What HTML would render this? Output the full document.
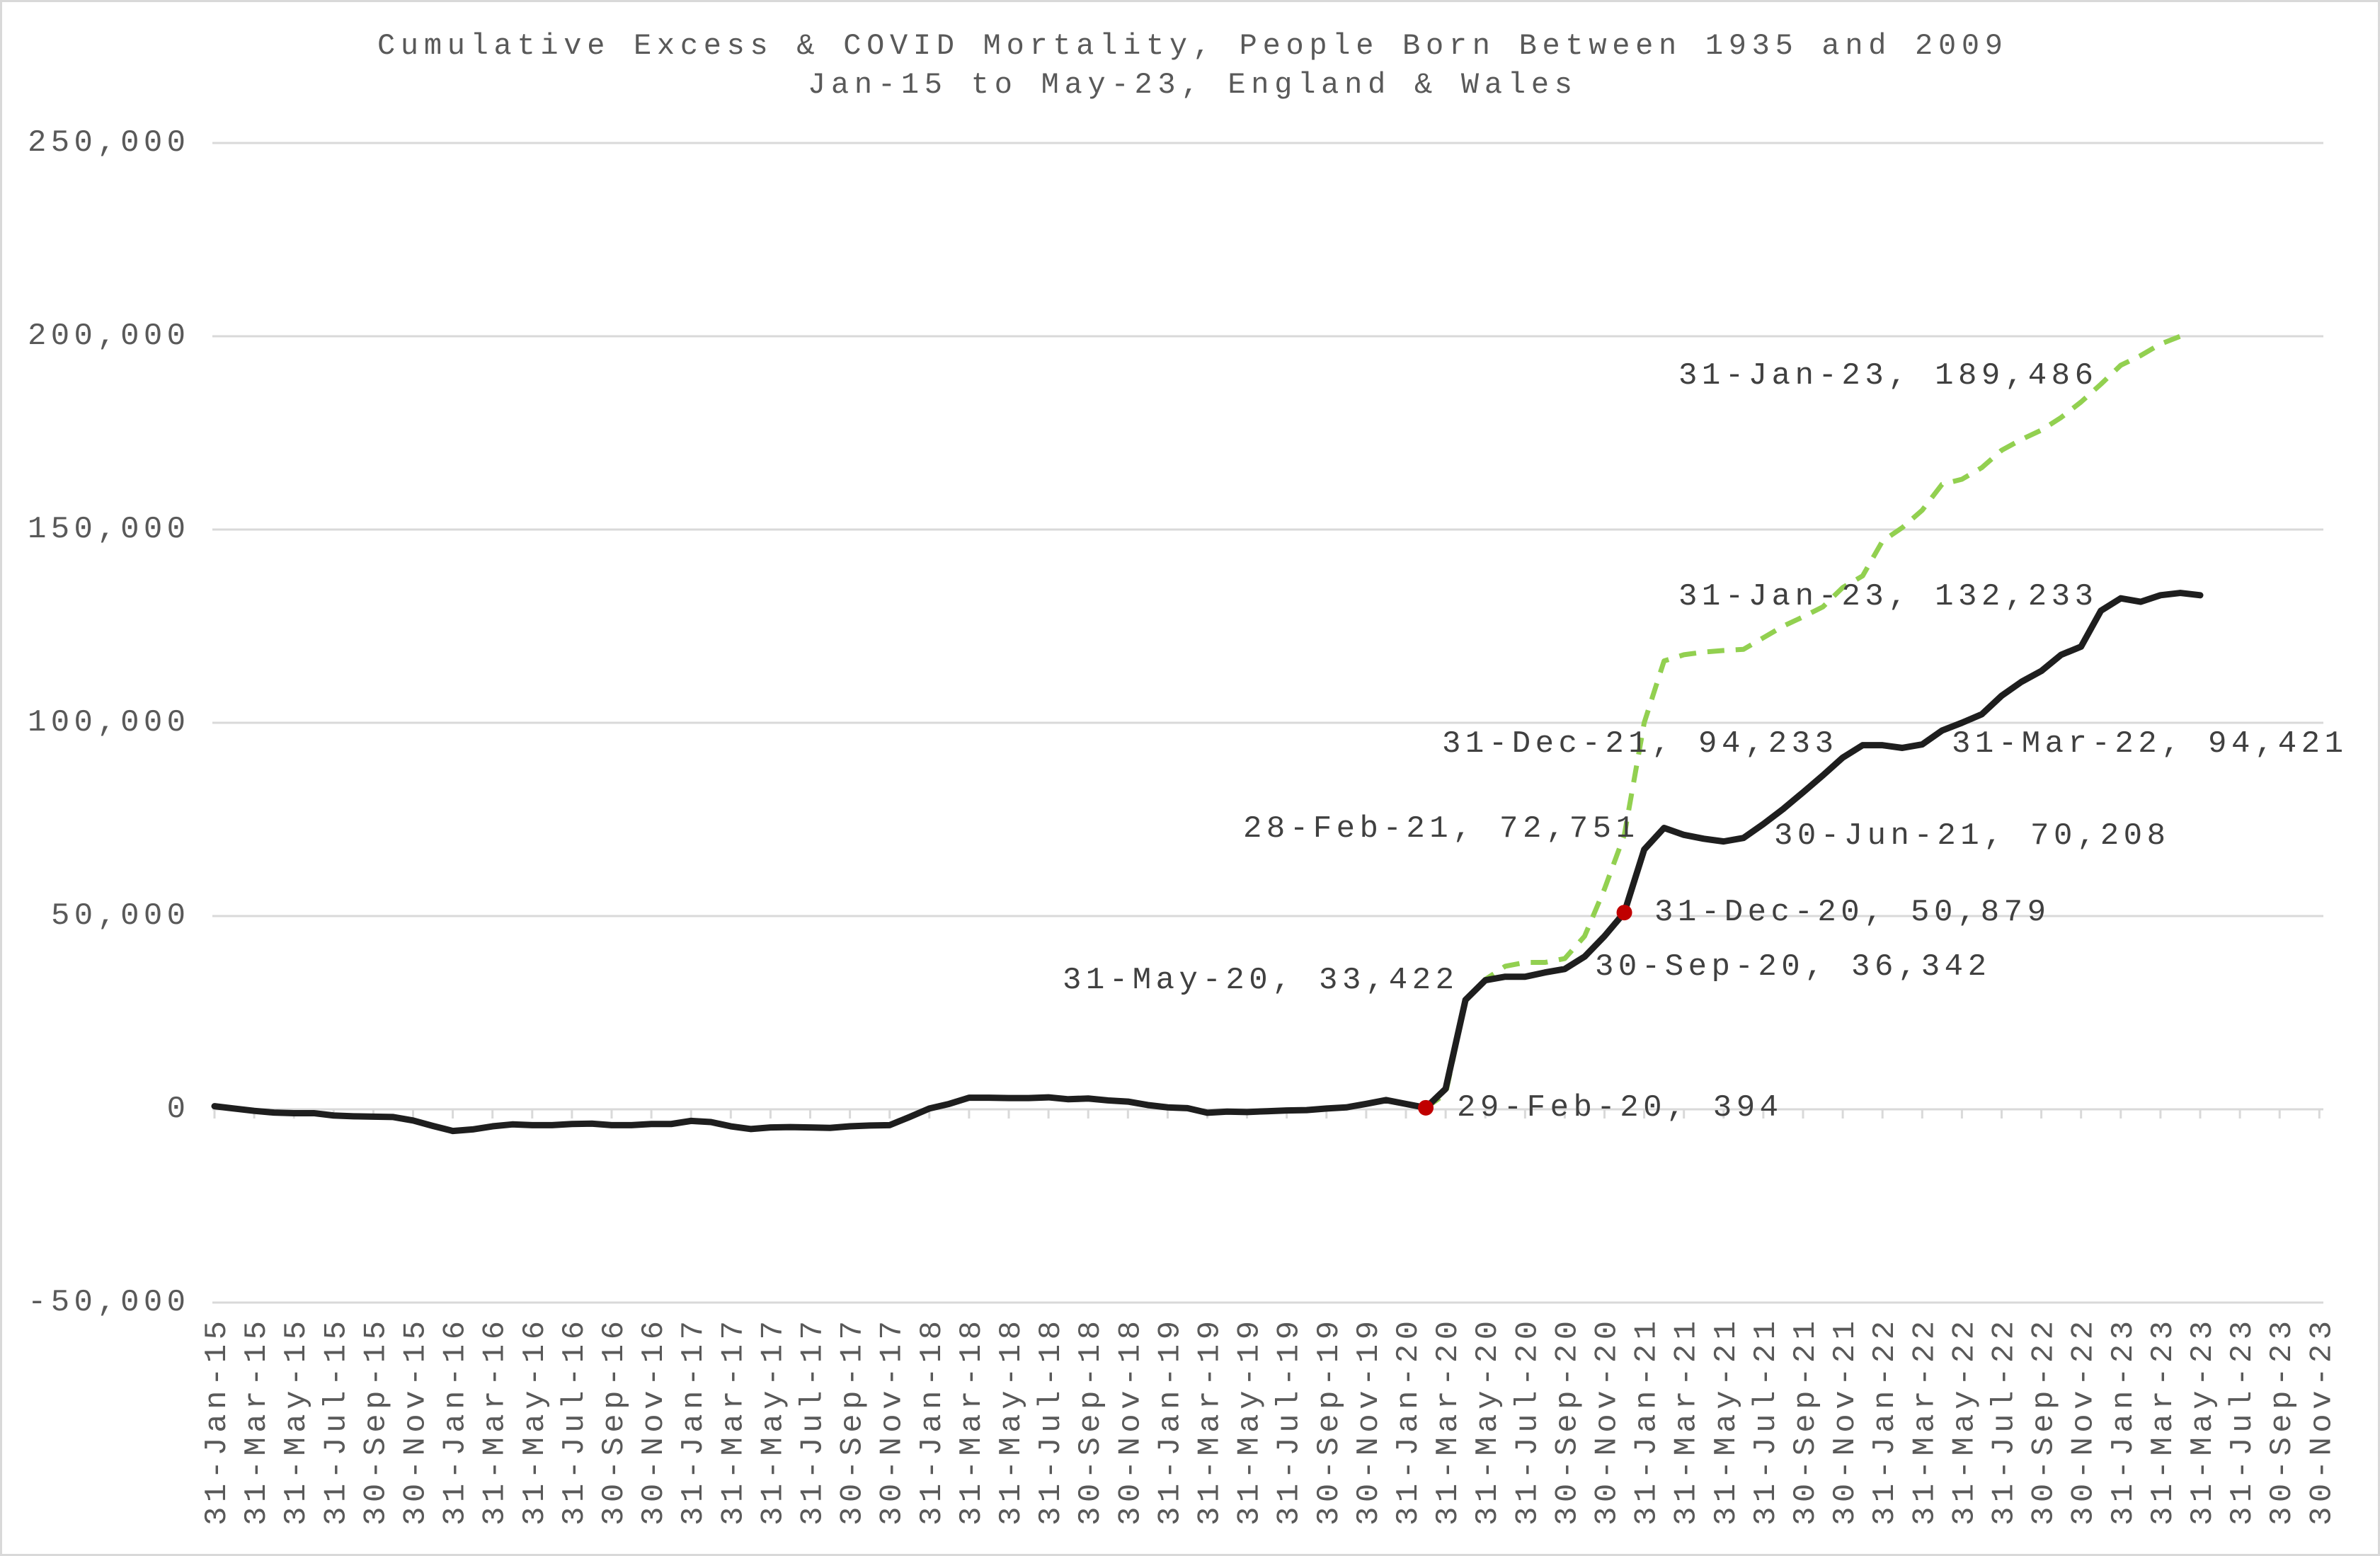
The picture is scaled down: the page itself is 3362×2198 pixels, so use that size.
<!DOCTYPE html>
<html><head><meta charset="utf-8"><style>
html,body{margin:0;padding:0;background:#fff}
svg{display:block}
text{font-family:"Liberation Mono","DejaVu Sans Mono",monospace}
</style></head><body>
<svg id="chart" xmlns="http://www.w3.org/2000/svg" width="3362" height="2198" viewBox="0 0 3362 2198">
<rect x="1.5" y="1.5" width="3359" height="2195" fill="#fff" stroke="#d9d9d9" stroke-width="3"/>
<text x="1681" y="65" text-anchor="middle" dominant-baseline="central" font-size="42" fill="#595959" textLength="2296" lengthAdjust="spacing">Cumulative Excess &amp; COVID Mortality, People Born Between 1935 and 2009</text>
<text x="1681" y="120" text-anchor="middle" dominant-baseline="central" font-size="42" fill="#595959" textLength="1080" lengthAdjust="spacing">Jan-15 to May-23, England &amp; Wales</text>
<g id="grid"></g><g id="ticks"></g><g id="ylabels"></g><g id="xlabels"></g><g id="series"></g><g id="labels"></g>
</svg>
<script>
const yTicks = [-50000, 0, 50000, 100000, 150000, 200000, 250000];
const yTickLabels = ["-50,000", "0", "50,000", "100,000", "150,000", "200,000", "250,000"];
const monthNames = ["Jan","Feb","Mar","Apr","May","Jun","Jul","Aug","Sep","Oct","Nov","Dec"];
const monthEnds = ["31","28","31","30","31","30","31","31","30","31","30","31"];
const excessValues = [
0.8,0.2,-0.4,-0.85,-1.0,-1.0,-1.6,-1.8,-1.9,-2.0,-2.9,-4.3,
-5.6,-5.2,-4.4,-3.9,-4.1,-4.1,-3.8,-3.7,-4.1,-4.1,-3.8,-3.8,
-3.0,-3.3,-4.4,-5.1,-4.7,-4.6,-4.7,-4.8,-4.4,-4.2,-4.1,-2.0,
0.2,1.4,3.0,3.0,2.9,2.9,3.1,2.6,2.8,2.3,2.0,1.1,
0.5,0.3,-0.9,-0.6,-0.7,-0.5,-0.3,-0.2,0.2,0.5,1.4,2.4,
1.4,0.394,5.3,28.3,33.4,34.3,34.3,35.4,36.3,39.5,44.8,50.9,
67.2,72.8,71.0,70.0,69.3,70.2,73.8,77.7,82.0,86.4,91.0,94.2,
94.2,93.5,94.4,98.0,100.0,102.2,107.0,110.6,113.4,117.6,119.7,129.0,
132.2,131.3,133.0,133.6,133.0];
const covidStart = 61;
const covidValues = [0.394,4,28,33.6,37,38,38,39,44.8,57,71,
100,116,117.6,118.3,118.7,119,122,125,127.4,130,135,138,
147,150.5,155,161.7,163,166,170.5,173.3,175.7,179,183,187.6,
192.5,195,198,200];
const highlightIdx = [61, 71];
const annotations = [
 {t:"31-Jan-23, 189,486", x:2371, y:531},
 {t:"31-Jan-23, 132,233", x:2371, y:843},
 {t:"31-Dec-21, 94,233", x:2037, y:1051},
 {t:"31-Mar-22, 94,421", x:2757, y:1051},
 {t:"28-Feb-21, 72,751", x:1756, y:1171},
 {t:"30-Jun-21, 70,208", x:2506, y:1181},
 {t:"31-Dec-20, 50,879", x:2337, y:1289},
 {t:"30-Sep-20, 36,342", x:2253, y:1366},
 {t:"31-May-20, 33,422", x:1501, y:1385},
 {t:"29-Feb-20, 394", x:2058, y:1565}
];
const NS = "http://www.w3.org/2000/svg";
const X0 = 303, DX = 28.05, NMONTHS = 108;
const Y0 = 1567, PER50K = 273;
function xs(i){ return X0 + DX*i; }
function ys(v){ return Y0 - v/50000*PER50K; }
function mk(tag, attrs, parent){ const e=document.createElementNS(NS,tag); for(const k in attrs) e.setAttribute(k,attrs[k]); parent.appendChild(e); return e; }
const grid=document.getElementById('grid'), ticks=document.getElementById('ticks'), yl=document.getElementById('ylabels'), xl=document.getElementById('xlabels'), ser=document.getElementById('series'), lab=document.getElementById('labels');
yTicks.forEach((v,k)=>{
  const l=mk('line',{x1:300,x2:3282,y1:ys(v),y2:ys(v),stroke:'#d9d9d9','stroke-width':3},grid);
  
  
  const t=mk('text',{x:262,y:ys(v),'text-anchor':'end','dominant-baseline':'central','font-size':44,fill:'#595959',textLength:yTickLabels[k].length*33-8,lengthAdjust:'spacing'},yl);
  t.textContent=yTickLabels[k];
  
  
});
for(let i=0;i<NMONTHS;i+=2){
  const tk=mk('line',{x1:xs(i),x2:xs(i),y1:Y0,y2:Y0+13,stroke:'#d9d9d9','stroke-width':3},ticks);
  
  
  const m=i%12, yr=15+Math.floor(i/12);
  const s=monthEnds[m]+"-"+monthNames[m]+"-"+yr;
  const t=mk('text',{x:0,y:0,transform:`translate(${xs(i)+15},1866) rotate(-90)`,'text-anchor':'end','font-size':44,fill:'#595959',textLength:s.length*33-8,lengthAdjust:'spacing'},xl);
  t.textContent=s;
  
  
}
const cp=covidValues.map((v,k)=>xs(covidStart+k)+','+ys(v*1000)).join(' ');
const g=mk('polyline',{points:cp,fill:'none',stroke:'#92d050','stroke-width':7,'stroke-dasharray':'24 16','stroke-linejoin':'round'},ser);


const ep=excessValues.map((v,k)=>xs(k)+','+ys(v*1000)).join(' ');
const b=mk('polyline',{points:ep,fill:'none',stroke:'#1e1e1e','stroke-width':9,'stroke-linejoin':'round','stroke-linecap':'round'},ser);


highlightIdx.forEach(i=>{
  const c=mk('circle',{cx:xs(i),cy:ys(excessValues[i]*1000),r:11,fill:'#c00000'},ser);
  
  
});
annotations.forEach(a=>{
  const t=mk('text',{x:a.x,y:a.y,'dominant-baseline':'central','font-size':44,fill:'#404040',textLength:a.t.length*33-8,lengthAdjust:'spacing'},lab);
  t.textContent=a.t;
  
  
});
</script>
</body></html>
